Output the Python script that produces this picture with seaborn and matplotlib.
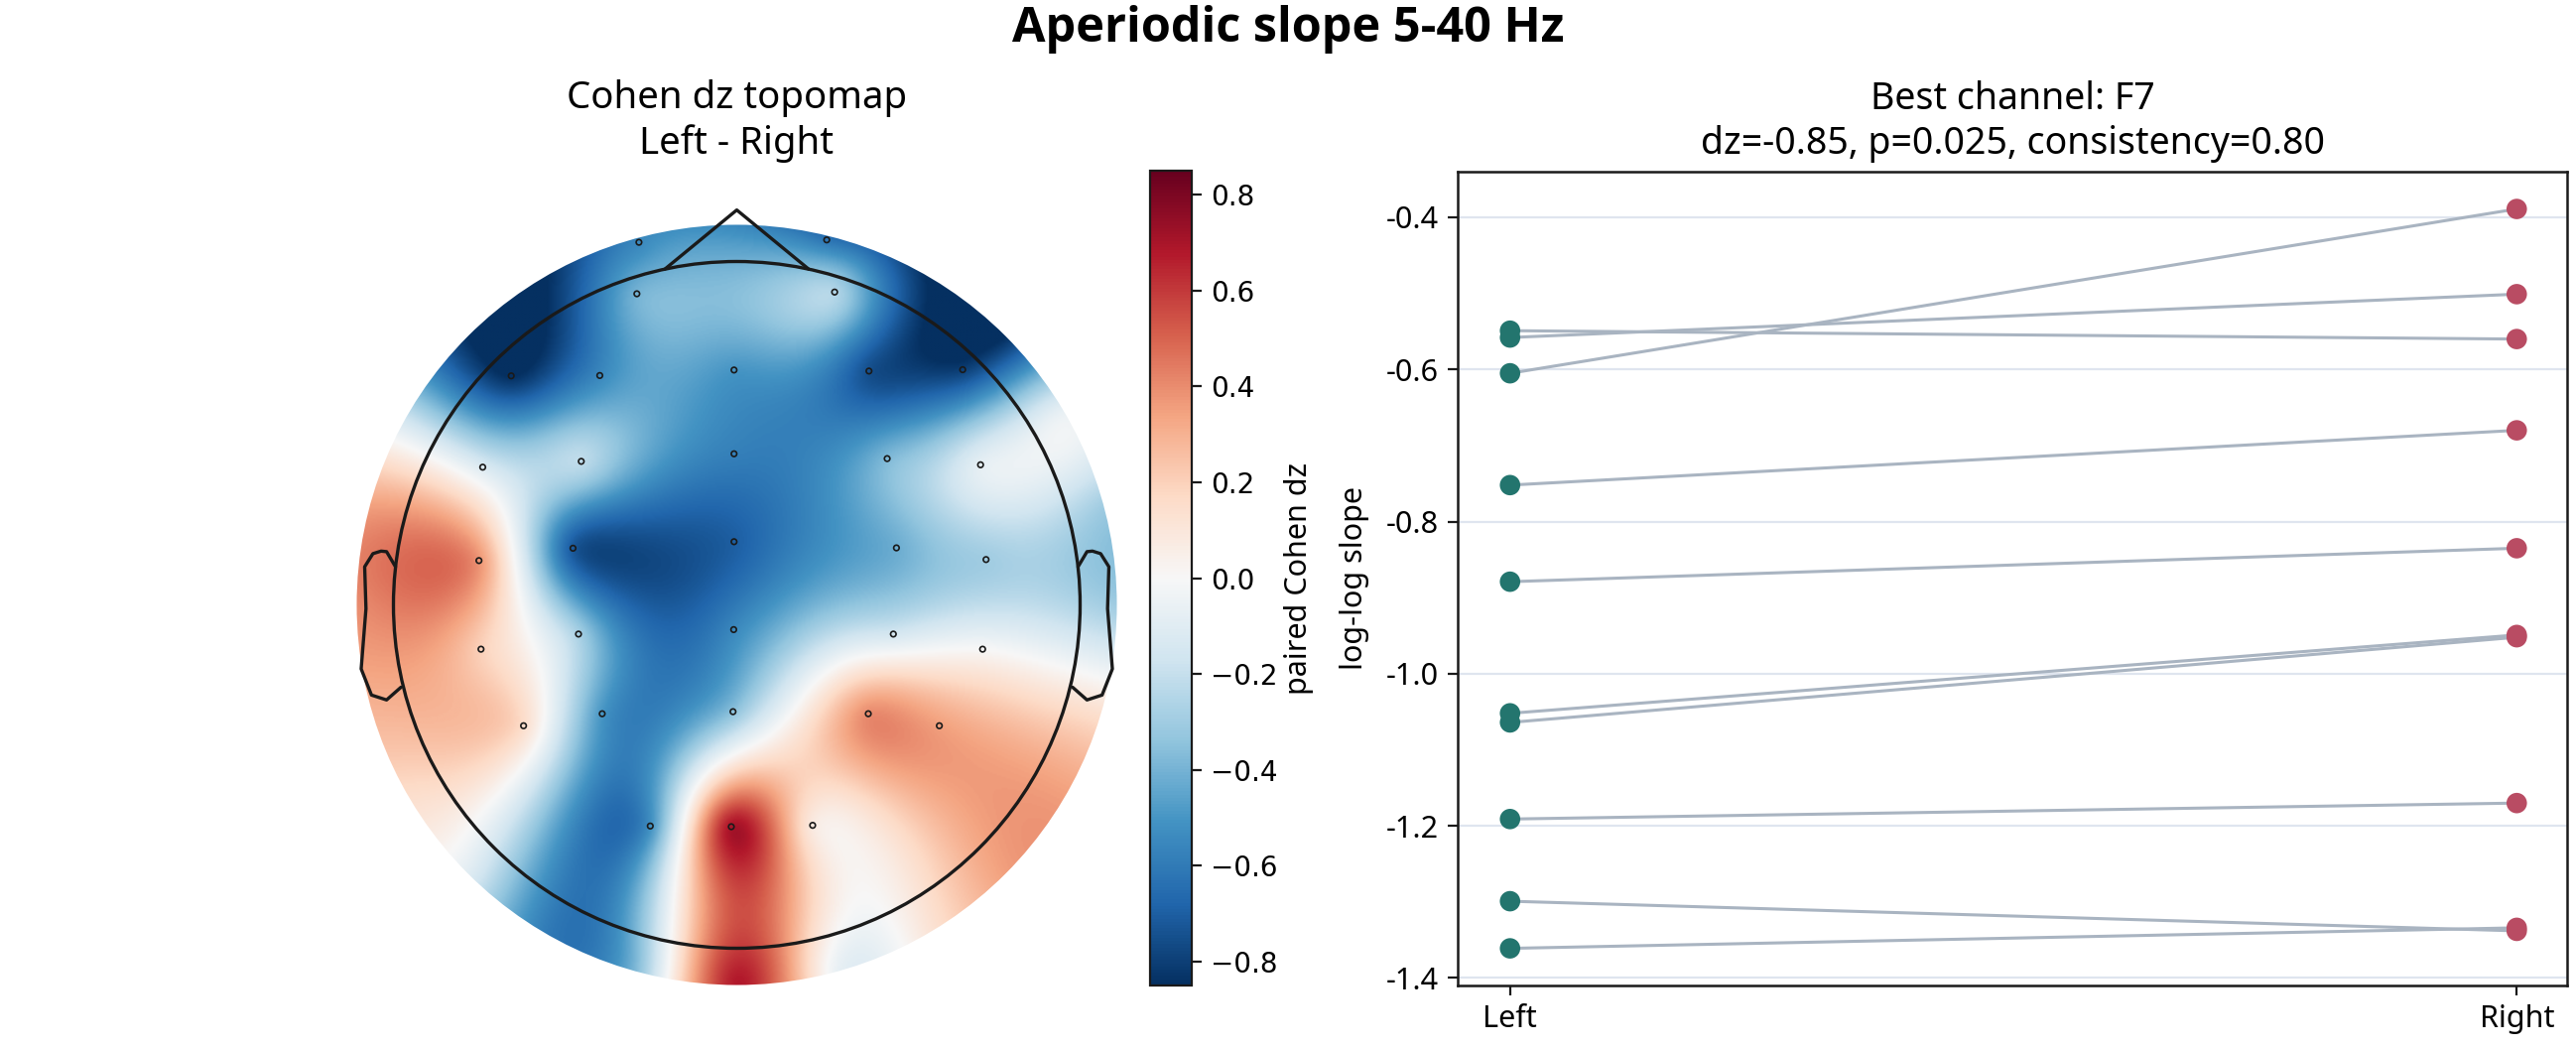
import numpy as np
import pandas as pd
import matplotlib
matplotlib.use("Agg")
import matplotlib.pyplot as plt
from matplotlib.patches import Circle
from matplotlib.ticker import FuncFormatter
from matplotlib import font_manager
import seaborn as sns

# ---------------- data ----------------
channels = ["Fp1", "Fp2", "AF3", "AF4", "F7", "F3", "Fz", "F4", "F8",
            "FC5", "FC1", "FCz", "FC2", "FC6", "T7", "C3", "Cz", "C4", "T8",
            "CP5", "CP1", "CPz", "CP2", "CP6", "P7", "P3", "Pz", "P4", "P8",
            "O1", "Oz", "O2"]
# sensor layout in head-radius units (x to the right, y to the nose)
chan_x = [-0.285, 0.262, -0.291, 0.285, -0.657, -0.399, -0.008, 0.385, 0.658,
          -0.740, -0.453, -0.008, 0.438, 0.710, -0.751, -0.477, -0.008, 0.465, 0.726,
          -0.745, -0.461, -0.009, 0.456, 0.716, -0.621, -0.392, -0.011, 0.383, 0.590,
          -0.252, -0.016, 0.221]
chan_y = [1.056, 1.063, 0.906, 0.911, 0.667, 0.668, 0.684, 0.681, 0.685,
          0.401, 0.418, 0.440, 0.426, 0.408, 0.129, 0.165, 0.184, 0.166, 0.132,
          -0.129, -0.085, -0.072, -0.085, -0.129, -0.352, -0.317, -0.311, -0.317, -0.352,
          -0.644, -0.646, -0.642]
chan_dz = [-0.55, -0.62, -0.40, -0.25, -0.85, -0.55, -0.50, -0.75, -0.80,
           -0.12, -0.22, -0.58, -0.38, -0.08, 0.38, -0.72, -0.70, -0.42, -0.30,
           0.20, -0.28, -0.55, -0.15, 0.00, 0.15, -0.50, -0.35, 0.40, 0.35,
           -0.52, 0.70, 0.08]
# values at the border of the interpolated disk (clockwise from the nose)
ring_angle_deg = [0, 15, 30, 45, 60, 75, 90, 105, 120, 135, 150, 165,
                  180, 195, 210, 225, 240, 255, 270, 285, 300, 315, 330, 345]
ring_dz = [-0.55, -0.65, -0.85, -0.85, -0.05, -0.30, -0.30, 0.10, 0.35, 0.35, 0.10, -0.05,
           0.68, -0.35, -0.60, -0.10, 0.15, 0.30, 0.40, 0.35, -0.20, -0.85, -0.85, -0.55]
colorbar_ticks = [-0.8, -0.6, -0.4, -0.2, 0.0, 0.2, 0.4, 0.6, 0.8]
dz_lim = 0.85

subjects = [f"S{i:02d}" for i in range(1, 11)]
conditions = ["Left", "Right"]
slope_left = [-0.549, -0.558, -0.605, -0.752, -0.879, -1.052, -1.064, -1.191, -1.299, -1.361]
slope_right = [-0.560, -0.501, -0.389, -0.680, -0.835, -0.949, -0.952, -1.170, -1.338, -1.334]
y_ticks = [-1.4, -1.2, -1.0, -0.8, -0.6, -0.4]

suptitle = "Aperiodic slope 5-40 Hz"
topo_title = "Cohen dz topomap\nLeft - Right"
pair_title = "Best channel: F7\ndz=-0.85, p=0.025, consistency=0.80"

# ---------------- style ----------------
sns.set_theme(style="white")
plt.rcParams["font.family"] = ["Noto Sans", "DejaVu Sans"]
plt.rcParams["axes.unicode_minus"] = True
for key in ["text.color", "axes.labelcolor", "xtick.color", "ytick.color", "axes.edgecolor"]:
    plt.rcParams[key] = "black"

# pick a family that really has a bold face for the main title
bold_family = "DejaVu Sans"
for fam in ["Noto Sans", "Open Sans", "Lato", "Roboto"]:
    try:
        f = font_manager.findfont(font_manager.FontProperties(family=fam, weight="bold"),
                                  fallback_to_default=False)
        if "bold" in f.lower() or "black" in f.lower() or "semibold" in f.lower():
            bold_family = fam
            break
    except Exception:
        pass

W, H, DPI = 2596, 1056, 200
fig = plt.figure(figsize=(W / DPI, H / DPI), dpi=DPI)
fig.patch.set_facecolor("white")

def fx(px):
    return px / W

def fy(py):
    return 1 - py / H

# ---------------- topomap ----------------
R_PX = 346.0
cx_px, cy_px = 742.5, 609.5
x0, x1 = -1.15, 1.15
y1 = (cy_px - 172.7) / R_PX
y0 = -1.115
ax_t = fig.add_axes([fx(cx_px + x0 * R_PX), fy(cy_px - y0 * R_PX),
                     (x1 - x0) * R_PX / W, (y1 - y0) * R_PX / H])
ax_t.set_xlim(x0, x1)
ax_t.set_ylim(y0, y1)
ax_t.set_axis_off()

disk_r = 1.107
ang = np.deg2rad(np.array(ring_angle_deg))
px = np.concatenate([np.array(chan_x), disk_r * np.sin(ang)])
py = np.concatenate([np.array(chan_y), disk_r * np.cos(ang)])
pv = np.concatenate([np.array(chan_dz), np.array(ring_dz)])

def tps_kernel(d):
    with np.errstate(divide="ignore", invalid="ignore"):
        k = d ** 2 * np.log(d)
    return np.where(d > 0, k, 0.0)

n = len(pv)
P = np.column_stack([px, py])
D = np.sqrt(((P[:, None, :] - P[None, :, :]) ** 2).sum(-1))
A = np.zeros((n + 3, n + 3))
A[:n, :n] = tps_kernel(D) + 1e-4 * np.eye(n)
A[:n, n] = 1.0
A[:n, n + 1] = px
A[:n, n + 2] = py
A[n:, :n] = A[:n, n:].T
coef = np.linalg.solve(A, np.concatenate([pv, np.zeros(3)]))

ng = 500
gx = np.linspace(-disk_r, disk_r, ng)
GX, GY = np.meshgrid(gx, gx)
G = np.column_stack([GX.ravel(), GY.ravel()])
Dg = np.sqrt(((G[:, None, :] - P[None, :, :]) ** 2).sum(-1))
Z = tps_kernel(Dg) @ coef[:n] + coef[n] + coef[n + 1] * G[:, 0] + coef[n + 2] * G[:, 1]
Z = Z.reshape(ng, ng)

cmap = sns.color_palette("RdBu_r", as_cmap=True)
im = ax_t.imshow(Z, origin="lower", extent=(-disk_r, disk_r, -disk_r, disk_r),
                 cmap=cmap, vmin=-dz_lim, vmax=dz_lim, interpolation="bilinear")
clip = Circle((0, 0), disk_r, transform=ax_t.transData, facecolor="none", edgecolor="none")
ax_t.add_patch(clip)
im.set_clip_path(clip)

lw_head = 1.2
ax_t.add_patch(Circle((0, 0), 1.0, fill=False, edgecolor="k", linewidth=lw_head, zorder=5))
dx = np.exp(np.arccos(np.deg2rad(12)) * 1j)
ax_t.plot([-dx.real, 0, dx.real], [dx.imag, 1.15, dx.imag], color="k", lw=lw_head, zorder=5)
ear_x = np.array([.497, .510, .518, .5299, .5419, .54, .547, .532, .510, .489]) * 2
ear_y = np.array([.0555, .0775, .0783, .0746, .0555, -.0055, -.0932, -.1313, -.1384, -.1199]) * 2
ax_t.plot(ear_x, ear_y, color="k", lw=lw_head, zorder=5)
ax_t.plot(-ear_x, ear_y, color="k", lw=lw_head, zorder=5)
ax_t.scatter(chan_x, chan_y, s=4, facecolors="none", edgecolors="k", linewidths=0.6, zorder=6)
ax_t.set_title(topo_title, fontsize=13.8, pad=6.5, linespacing=1.22)

# colorbar
cax = fig.add_axes([fx(1159), fy(993), fx(1201 - 1159), (993 - 172) / H])
cb = fig.colorbar(im, cax=cax)
cb.set_ticks(colorbar_ticks)
cb.outline.set_linewidth(0.8)
cb.outline.set_edgecolor("k")
cax.tick_params(labelsize=10, length=3.5, width=0.8, color="k")
for t in cax.get_yticklabels():
    t.set_fontfamily("DejaVu Sans")
cb.set_label("paired Cohen dz", fontsize=11, labelpad=2)

# ---------------- paired plot ----------------
ax_p = fig.add_axes([fx(1469), fy(992.7), fx(2587 - 1469), (992.7 - 172.7) / H])
df = pd.DataFrame({
    "subject": subjects * 2,
    "condition": [conditions[0]] * len(subjects) + [conditions[1]] * len(subjects),
    "slope": slope_left + slope_right,
})
df["pos"] = df["condition"].map({c: i for i, c in enumerate(conditions)})

sns.lineplot(data=df, x="pos", y="slope", units="subject", estimator=None,
             color="#a9b4c1", linewidth=1.1, sort=False, ax=ax_p, zorder=2, legend=False)
sns.scatterplot(data=df, x="pos", y="slope", hue="condition",
                palette={"Left": "#23756e", "Right": "#b94c63"},
                s=55, edgecolor="none", linewidth=0, ax=ax_p, zorder=3, legend=False)

ax_p.set_xlim(-0.052, 1.050)
ax_p.set_ylim(-1.4094, -0.3396)
ax_p.set_xticks(range(len(conditions)))
ax_p.set_xticklabels(conditions)
ax_p.set_yticks(y_ticks)
ax_p.yaxis.set_major_formatter(FuncFormatter(lambda v, p: f"{v:.1f}"))
ax_p.set_xlabel("")
ax_p.set_ylabel("log-log slope", fontsize=11, labelpad=6)
ax_p.grid(axis="y", color="#dfe5ef", linewidth=0.8)
ax_p.grid(axis="x", visible=False)
ax_p.set_axisbelow(True)
for sp in ax_p.spines.values():
    sp.set_visible(True)
    sp.set_color("k")
    sp.set_linewidth(0.9)
ax_p.tick_params(axis="both", labelsize=11, length=3.5, width=0.8, color="k",
                 bottom=True, left=True, direction="out")
ax_p.set_title(pair_title, fontsize=13.5, pad=6.5, linespacing=1.22)

fig.suptitle(suptitle, fontsize=17.5, fontweight="bold", family=[bold_family, "DejaVu Sans"],
             y=fy(30), va="center")

fig.savefig("out.png", dpi=DPI, facecolor="white")
